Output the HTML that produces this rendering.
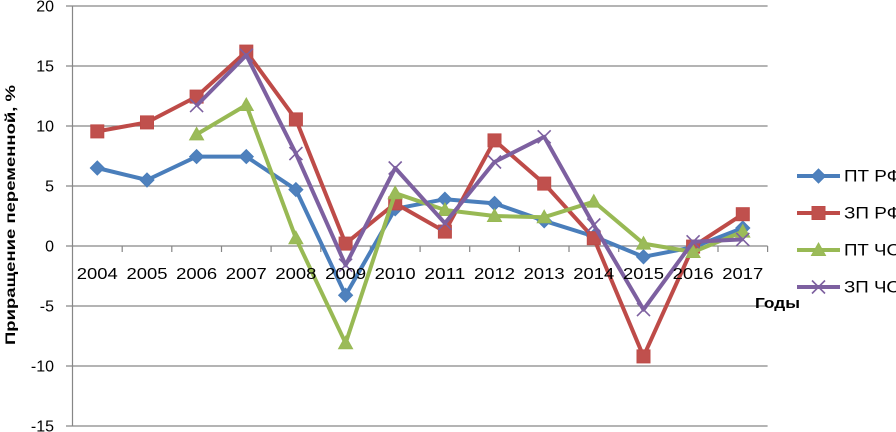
<!DOCTYPE html>
<html><head><meta charset="utf-8"><style>
html,body{margin:0;padding:0;background:#fff;}
svg{display:block;}
text{font-family:"Liberation Sans",sans-serif;fill:#000;}
</style></head><body>
<svg width="896" height="432" viewBox="0 0 896 432" xmlns="http://www.w3.org/2000/svg">
<defs>
<marker id="md" markerUnits="userSpaceOnUse" markerWidth="20" markerHeight="20" refX="10" refY="10" viewBox="0 0 20 20" overflow="visible"><polygon points="10,3 17,10 10,17 3,10" fill="#4F81BD" stroke="#4A7EBB" stroke-width="1"/></marker>
<marker id="ms" markerUnits="userSpaceOnUse" markerWidth="20" markerHeight="20" refX="10" refY="10" viewBox="0 0 20 20" overflow="visible"><rect x="3.5" y="3.5" width="13" height="13" fill="#C0504D" stroke="#BE4B48" stroke-width="1"/></marker>
<marker id="mt" markerUnits="userSpaceOnUse" markerWidth="20" markerHeight="20" refX="10" refY="10" viewBox="0 0 20 20" overflow="visible"><polygon points="10,3 17,15.5 3,15.5" fill="#9BBB59" stroke="#98B954" stroke-width="1"/></marker>
<marker id="mx" markerUnits="userSpaceOnUse" markerWidth="20" markerHeight="20" refX="10" refY="10" viewBox="0 0 20 20" overflow="visible"><path d="M3.5,3.5 L16.5,16.5 M16.5,3.5 L3.5,16.5" stroke="#7D60A0" stroke-width="1.6" fill="none"/></marker>
</defs>

<!-- gridlines -->
<g stroke="#868686" stroke-width="1.2" fill="none">
<line x1="66" y1="6" x2="767.6" y2="6"/>
<line x1="66" y1="66" x2="767.6" y2="66"/>
<line x1="66" y1="126" x2="767.6" y2="126"/>
<line x1="66" y1="186" x2="767.6" y2="186"/>
<line x1="66" y1="246" x2="767.6" y2="246"/>
<line x1="66" y1="306" x2="767.6" y2="306"/>
<line x1="66" y1="366" x2="767.6" y2="366"/>
<line x1="66" y1="426" x2="767.6" y2="426"/>
<line x1="72.5" y1="6" x2="72.5" y2="426"/>
<!-- category ticks -->
<line x1="122.2" y1="246" x2="122.2" y2="252"/>
<line x1="171.8" y1="246" x2="171.8" y2="252"/>
<line x1="221.5" y1="246" x2="221.5" y2="252"/>
<line x1="271.1" y1="246" x2="271.1" y2="252"/>
<line x1="320.8" y1="246" x2="320.8" y2="252"/>
<line x1="370.4" y1="246" x2="370.4" y2="252"/>
<line x1="420.1" y1="246" x2="420.1" y2="252"/>
<line x1="469.7" y1="246" x2="469.7" y2="252"/>
<line x1="519.4" y1="246" x2="519.4" y2="252"/>
<line x1="569.0" y1="246" x2="569.0" y2="252"/>
<line x1="618.7" y1="246" x2="618.7" y2="252"/>
<line x1="668.3" y1="246" x2="668.3" y2="252"/>
<line x1="718.0" y1="246" x2="718.0" y2="252"/>
<line x1="767.6" y1="246" x2="767.6" y2="252"/>
</g>

<!-- y tick labels -->
<g font-size="16" text-anchor="end">
<text x="54" y="11.5">20</text>
<text x="54" y="71.5">15</text>
<text x="54" y="131.5">10</text>
<text x="54" y="191.5">5</text>
<text x="54" y="251.5">0</text>
<text x="54" y="311.5">-5</text>
<text x="54" y="371.5">-10</text>
<text x="54" y="431.5">-15</text>
</g>

<!-- series -->
<g fill="none" stroke-width="4" stroke-linejoin="round">
<polyline stroke="#4A7EBB" marker-start="url(#md)" marker-mid="url(#md)" marker-end="url(#md)"
 points="97.3,168 147.0,180 196.6,156.6 246.3,156.6 295.9,189.6 345.6,295.2 395.2,208.8 444.9,199.2 494.5,203.4 544.2,220.8 593.8,236.4 643.5,256.8 693.1,247.2 742.8,228"/>
<polyline stroke="#BE4B48" marker-start="url(#ms)" marker-mid="url(#ms)" marker-end="url(#ms)"
 points="97.3,131.4 147.0,122.4 196.6,96.6 246.3,51.6 295.9,119.4 345.6,243.6 395.2,203.4 444.9,231.6 494.5,140.4 544.2,183.6 593.8,238.2 643.5,356.4 693.1,246.6 742.8,214.2"/>
<polyline stroke="#98B954" marker-start="url(#mt)" marker-mid="url(#mt)" marker-end="url(#mt)"
 points="196.6,134.4 246.3,105 295.9,238.2 345.6,343.2 395.2,193.2 444.9,210 494.5,216 544.2,217.2 593.8,201.6 643.5,243.6 693.1,252 742.8,231.6"/>
<polyline stroke="#7D60A0" marker-start="url(#mx)" marker-mid="url(#mx)" marker-end="url(#mx)"
 points="196.6,105.6 246.3,55.2 295.9,153.6 345.6,265.2 395.2,168 444.9,223.2 494.5,162 544.2,136.8 593.8,225 643.5,309.6 693.1,241.8 742.8,239.4"/>
</g>

<!-- x labels -->
<g font-size="16" text-anchor="middle">
<text x="97.3" y="279" textLength="41" lengthAdjust="spacingAndGlyphs">2004</text>
<text x="147.0" y="279" textLength="41" lengthAdjust="spacingAndGlyphs">2005</text>
<text x="196.6" y="279" textLength="41" lengthAdjust="spacingAndGlyphs">2006</text>
<text x="246.3" y="279" textLength="41" lengthAdjust="spacingAndGlyphs">2007</text>
<text x="295.9" y="279" textLength="41" lengthAdjust="spacingAndGlyphs">2008</text>
<text x="345.6" y="279" textLength="41" lengthAdjust="spacingAndGlyphs">2009</text>
<text x="395.2" y="279" textLength="41" lengthAdjust="spacingAndGlyphs">2010</text>
<text x="444.9" y="279" textLength="41" lengthAdjust="spacingAndGlyphs">2011</text>
<text x="494.5" y="279" textLength="41" lengthAdjust="spacingAndGlyphs">2012</text>
<text x="544.2" y="279" textLength="41" lengthAdjust="spacingAndGlyphs">2013</text>
<text x="593.8" y="279" textLength="41" lengthAdjust="spacingAndGlyphs">2014</text>
<text x="643.5" y="279" textLength="41" lengthAdjust="spacingAndGlyphs">2015</text>
<text x="693.1" y="279" textLength="41" lengthAdjust="spacingAndGlyphs">2016</text>
<text x="742.8" y="279" textLength="41" lengthAdjust="spacingAndGlyphs">2017</text>
</g>

<!-- axis titles -->
<text x="755" y="308" font-size="15" font-weight="bold" textLength="45" lengthAdjust="spacingAndGlyphs">Годы</text>
<text transform="translate(15,345) rotate(-90)" x="0" y="0" font-size="14" font-weight="bold" textLength="260" lengthAdjust="spacingAndGlyphs">Приращение переменной, %</text>

<!-- legend -->
<g fill="none" stroke-width="4">
<line x1="797" y1="176" x2="840" y2="176" stroke="#4A7EBB"/>
<line x1="797" y1="213" x2="840" y2="213" stroke="#BE4B48"/>
<line x1="797" y1="250" x2="840" y2="250" stroke="#98B954"/>
<line x1="797" y1="287" x2="840" y2="287" stroke="#7D60A0"/>
</g>
<polygon points="818.5,169 825.5,176 818.5,183 811.5,176" fill="#4F81BD" stroke="#4A7EBB"/>
<rect x="812" y="206.5" width="13" height="13" fill="#C0504D" stroke="#BE4B48"/>
<polygon points="818.5,243 825.5,255.5 811.5,255.5" fill="#9BBB59" stroke="#98B954"/>
<path d="M812,280.5 L825,293.5 M825,280.5 L812,293.5" stroke="#7D60A0" stroke-width="1.6" fill="none"/>
<g font-size="16.5">
<text x="844" y="181.5" textLength="57" lengthAdjust="spacingAndGlyphs">ПТ РФ</text>
<text x="844" y="218.5" textLength="57" lengthAdjust="spacingAndGlyphs">ЗП РФ</text>
<text x="844" y="255.5" textLength="57" lengthAdjust="spacingAndGlyphs">ПТ ЧО</text>
<text x="844" y="292.5" textLength="57" lengthAdjust="spacingAndGlyphs">ЗП ЧО</text>
</g>
</svg>
</body></html>
